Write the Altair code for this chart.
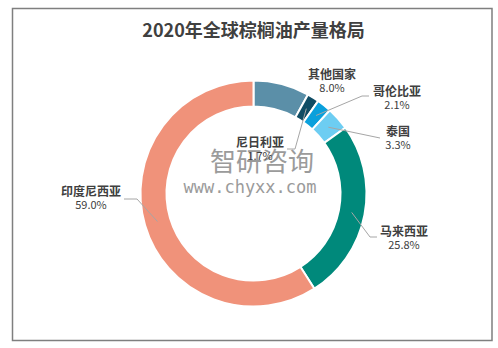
import altair as alt
import pandas as pd
import numpy as np

# ---- data ----
countries = ["其他国家", "尼日利亚", "哥伦比亚", "泰国", "马来西亚", "印度尼西亚"]
shares = [8.0, 1.7, 2.1, 3.3, 25.8, 59.0]
palette = ["#5b8fa8", "#0f4c64", "#0aa0dc", "#6dcdf2", "#00897b", "#f0927a"]
title_text = "2020年全球棕榈油产量格局"

# ---- layout (pixels) ----
W, H = 498, 348
CX, CY = 253.5, 193.5
R_OUT, R_IN = 113, 87
R_LEAD = 100
FONT = "Noto Sans CJK SC"
TXT = "#404040"

label_pos = {
    "其他国家": (332, 75),
    "尼日利亚": (260, 143),
    "哥伦比亚": (397, 92),
    "泰国": (398, 132),
    "马来西亚": (404, 232),
    "印度尼西亚": (91, 192),
}
leader_bends = {
    "尼日利亚": [(295, 149), (287, 149)],
    "哥伦比亚": [(362, 96), (369, 96)],
    "泰国": [(380, 138)],
    "马来西亚": [(370, 237), (377, 237)],
    "印度尼西亚": [(137, 199), (124, 199)],
}

df = pd.DataFrame({"country": countries, "share": shares, "idx": range(len(countries))})
total = sum(shares)
cum = np.cumsum([0] + shares[:-1])
mid_angle = {c: np.deg2rad((s0 + s / 2) / total * 360) for c, s0, s in zip(countries, cum, shares)}

lab = pd.DataFrame({
    "country": countries,
    "pct": [f"{s:.1f}%" for s in shares],
    "lx": [label_pos[c][0] for c in countries],
    "ly": [label_pos[c][1] for c in countries],
})
lab["ly2"] = lab["ly"] + 14

rows = []
for c, bends in leader_bends.items():
    a = mid_angle[c]
    rows.append({"country": c, "seq": 0, "px": CX + R_LEAD * np.sin(a), "py": CY - R_LEAD * np.cos(a)})
    for i, (bx, by) in enumerate(bends):
        rows.append({"country": c, "seq": i + 1, "px": bx, "py": by})
lines_df = pd.DataFrame(rows)

xs = alt.Scale(domain=[0, W], nice=False, zero=False)
ys = alt.Scale(domain=[0, H], nice=False, zero=False, reverse=True)

arcs = alt.Chart(df).mark_arc(outerRadius=R_OUT, innerRadius=R_IN, stroke="white", strokeWidth=2).encode(
    theta=alt.Theta("share:Q", stack=True),
    order=alt.Order("idx:Q"),
    color=alt.Color("country:N", scale=alt.Scale(domain=countries, range=palette), legend=None),
    x=alt.value(CX), y=alt.value(CY),
)

one = pd.DataFrame({"a": [0]})
wm1 = alt.Chart(one).mark_text(text="智研咨询", font=FONT, fontSize=26, color="#8a8a8a",
                               opacity=0.85).encode(x=alt.value(262), y=alt.value(163))
wm2 = alt.Chart(one).mark_text(text="www.chyxx.com", font="DejaVu Sans Mono", fontSize=17,
                               color="#8a8a8a", opacity=0.85).encode(x=alt.value(250), y=alt.value(188))

leaders = alt.Chart(lines_df).mark_line(color="#a6a6a6", strokeWidth=1).encode(
    x=alt.X("px:Q", scale=xs, axis=None),
    y=alt.Y("py:Q", scale=ys, axis=None),
    detail="country:N",
    order="seq:Q",
)

names = alt.Chart(lab).mark_text(font=FONT, fontSize=12, fontWeight="bold", color=TXT).encode(
    x=alt.X("lx:Q", scale=xs, axis=None),
    y=alt.Y("ly:Q", scale=ys, axis=None),
    text="country:N",
)
pcts = alt.Chart(lab).mark_text(font=FONT, fontSize=11, color=TXT).encode(
    x=alt.X("lx:Q", scale=xs, axis=None),
    y=alt.Y("ly2:Q", scale=ys, axis=None),
    text="pct:N",
)

title = alt.Chart(one).mark_text(text=title_text, font=FONT, fontSize=18, fontWeight="bold",
                                 color=TXT).encode(x=alt.value(253.5), y=alt.value(31.5))

border = alt.Chart(one).mark_rect(fill="transparent", stroke="#7f7f7f", strokeWidth=1.5).encode(
    x=alt.value(12.5), x2=alt.value(492), y=alt.value(8.5), y2=alt.value(340.5))

chart = alt.layer(arcs, wm1, wm2, leaders, names, pcts, title, border).properties(
    width=W, height=H, padding=0, autosize="none", background="white"
).configure_view(stroke=None)

chart.save("out.html", embed_options={"renderer": "svg", "actions": False})
